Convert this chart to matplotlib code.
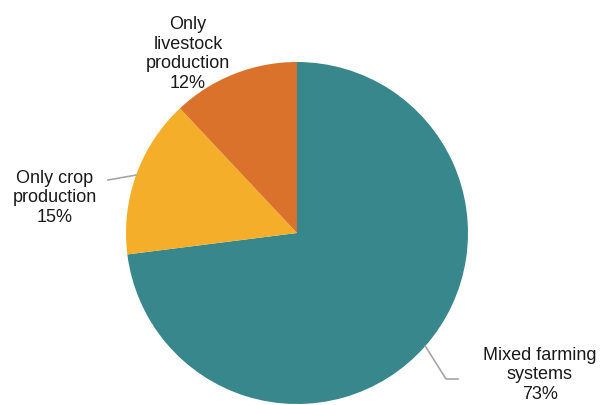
import matplotlib
matplotlib.use("Agg")
import matplotlib.pyplot as plt
import numpy as np

categories = ["Mixed farming\nsystems", "Only crop\nproduction", "Only livestock\nproduction"]
label_text = ["Mixed farming\nsystems", "Only crop\nproduction", "Only\nlivestock\nproduction"]
values = [73, 15, 12]
colors = ["#37878C", "#F5AE2A", "#DB722B"]

plt.rcParams['font.family'] = ['Liberation Sans', 'DejaVu Sans']

W, H = 610, 406
fig = plt.figure(figsize=(W / 100, H / 100), dpi=100)
ax = fig.add_axes([0, 0, 1, 1])
ax.set_xlim(0, W)
ax.set_ylim(0, H)
ax.set_aspect('equal')
ax.axis('off')

cx, cy, r = 297, H - 234, 171
wedges, _ = ax.pie(values, colors=colors, startangle=90, counterclock=False,
                   center=(cx, cy), radius=r, frame=True,
                   wedgeprops=dict(linewidth=0))
ax.set_xlim(0, W)
ax.set_ylim(0, H)
ax.axis('off')

fs = 13
# label positions (pixel coords, top-left origin), leader lines
label_pos = [(540, 375), (55, 198), (188, 54)]
for i, (w, txt, v) in enumerate(zip(wedges, label_text, values)):
    x, y = label_pos[i]
    ax.text(x, H - y, f"{txt}\n{v}%", ha='center', va='center', fontsize=fs,
            color='#1a1a1a', linespacing=1.2)

def edge_point(w):
    ang = np.deg2rad((w.theta1 + w.theta2) / 2)
    return cx + r * np.cos(ang), cy + r * np.sin(ang)

# Mixed leader
ex, ey = edge_point(wedges[0])
ax.plot([ex, 446, 458], [ey, H - 380, H - 380], color='#A6A6A6', lw=1.2)
# Crop leader
ex, ey = edge_point(wedges[1])
ax.plot([ex, 108], [ey, H - 181], color='#A6A6A6', lw=1.2)

fig.savefig("out.png", dpi=100)
